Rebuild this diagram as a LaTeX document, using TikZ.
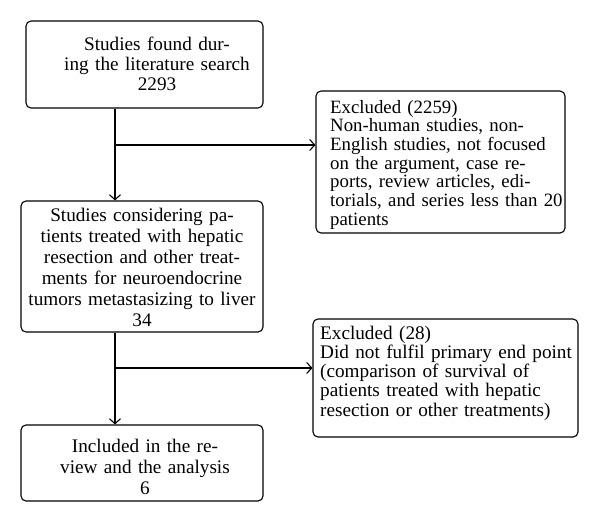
\documentclass[tikz,border=0pt]{standalone}
\usepackage{fontspec}
\setmainfont{Liberation Serif}
\usetikzlibrary{arrows.meta}
\begin{document}
\begin{tikzpicture}[x=1pt,y=-1pt,
  box/.style={draw, line width=1.1pt, rounded corners=5pt, inner sep=0pt},
  txt/.style={inner sep=0pt, anchor=base, align=center, text width=250pt},
  ltxt/.style={inner sep=0pt, anchor=base west, align=left, text width=262pt},
  conn/.style={line width=1.1pt},
  arr/.style={conn, -{Straight Barb[length=5pt,width=11pt,line width=1.1pt]}}
]
\useasboundingbox (0,0) rectangle (600,523);
% boxes
\node[box, minimum width=237pt, minimum height=87pt] (b1) at (144.5,64.5) {};
\node[box, minimum width=249pt, minimum height=142pt] (b2) at (440.5,162) {};
\node[box, minimum width=242pt, minimum height=131pt] (b3) at (142,266.5) {};
\node[box, minimum width=265pt, minimum height=118pt] (b4) at (445.5,378) {};
\node[box, minimum width=242pt, minimum height=76pt] (b5) at (142,463) {};
% texts
\node[txt, font=\fontsize{19.2}{20}\selectfont] (t1) at (157,50)
  {Studies found dur-\\ing the literature search\\2293};
\node[ltxt, font=\fontsize{18.8}{18.7}\selectfont] (t2) at (330,113)
  {Excluded (2259)\\Non-human studies, non-\\English studies, not focused\\on the argument, case re-\\ports, review articles, edi-\\torials, and series less than 20\\patients};
\node[txt, font=\fontsize{19.2}{21}\selectfont] (t3) at (142,221)
  {Studies considering pa-\\tients treated with hepatic\\resection and other treat-\\ments for neuroendocrine\\tumors metastasizing to liver\\34};
\node[ltxt, font=\fontsize{19.2}{19.3}\selectfont] (t4) at (320,339)
  {Excluded (28)\\Did not fulfil primary end point\\(comparison of survival of\\patients treated with hepatic\\resection or other treatments)};
\node[txt, font=\fontsize{19.2}{21}\selectfont] (t5) at (145,452)
  {Included in the re-\\view and the analysis\\6};
% connectors
\coordinate (j1) at (115,145);
\coordinate (j2) at (115,368);
\draw[arr] (b1.south -| j1) -- (b3.north -| j1);
\draw[arr] (j1) -- (j1 -| b2.west);
\draw[arr] (b3.south -| j2) -- (b5.north -| j2);
\draw[arr] (j2) -- (j2 -| b4.west);
\end{tikzpicture}
\end{document}
